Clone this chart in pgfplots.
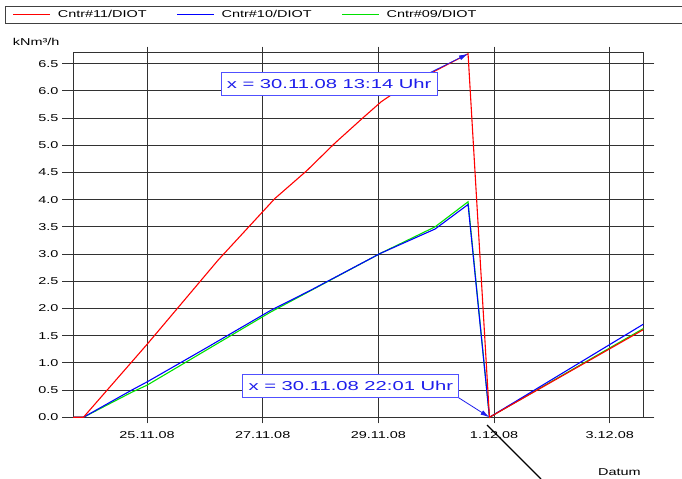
\documentclass[border=0pt]{standalone}
\usepackage{fontspec}
\setmainfont{Liberation Sans}[FakeStretch=1.45]
\newfontfamily\annfont{Liberation Sans}[FakeStretch=1.56]
\usepackage{pgfplots}
\pgfplotsset{compat=1.18}
\usetikzlibrary{arrows.meta}
\definecolor{annblue}{RGB}{30,30,235}
\definecolor{boxblue}{RGB}{80,80,255}
\definecolor{gridc}{RGB}{50,50,50}
\definecolor{ggreen}{RGB}{0,225,0}
\begin{document}
\begin{tikzpicture}[x=1bp,y=1bp]
\path[use as bounding box] (0,0) rectangle (682,479);
\draw[line width=1bp, black!75] (5,472) -- (695,472) -- (695,455) -- (5,455) -- cycle;
\begin{axis}[
  at={(73bp,61.7bp)}, anchor=south west,
  scale only axis, width=570.3bp, height=364.6bp,
  xmin=-0.28, xmax=9.58, ymin=0, ymax=6.7,
  xtick={1,3,5,7,9},
  xticklabels={25.11.08,27.11.08,29.11.08,1.12.08,3.12.08},
  ytick={0,0.5,1,1.5,2,2.5,3,3.5,4,4.5,5,5.5,6,6.5},
  yticklabel style={/pgf/number format/.cd, fixed, fixed zerofill, precision=1},
  /pgf/number format/assume math mode=true,
  grid=major, major grid style={gridc, line width=0.9bp},
  axis line style={gridc, line width=1bp},
  tick align=outside, major tick length=11bp,
  tick style={gridc, line width=0.9bp},
  xtick style={/pgfplots/major tick length=6bp},
  ticklabel style={font=\fontsize{10}{12}\selectfont},
  xlabel={Datum}, xlabel style={at={(rel axis cs:0.958,-0.150)}, anchor=center, font=\fontsize{10}{12}\selectfont},
  ylabel={kNm³/h}, ylabel style={rotate=-90, at={(rel axis cs:-0.1058,1.0302)}, anchor=west, inner sep=0pt, font=\fontsize{10}{12}\selectfont},
  legend columns=3, reverse legend,
  legend style={at={(rel axis cs:-0.1058,1.1042)}, anchor=west, draw=none, fill=none, inner sep=0pt,
    font=\fontsize{10}{12}\selectfont, cells={anchor=west},
    /tikz/every odd column/.append style={column sep=5bp},
    /tikz/every even column/.append style={column sep=28bp}},
  legend image code/.code={\draw[#1, line width=1bp] (0bp,0bp) -- (37bp,0bp);},
  clip=false,
]
\addplot[ggreen, line width=1.1bp] coordinates {(-0.28,0) (-0.10,0) (0.735,0.46) (1.0,0.59) (3.13,1.93) (5.03,3.01) (5.98,3.50) (6.55,3.96) (6.92,0) (9.58,1.63)};
\addlegendentry{Cntr\#09/DIOT}
\addplot[blue, line width=1.1bp] coordinates {(-0.28,0) (-0.10,0) (0.417,0.31) (0.735,0.50) (1.0,0.65) (2.0,1.26) (3.13,1.96) (3.82,2.33) (5.03,3.01) (5.98,3.46) (6.55,3.91) (6.92,0) (9.58,1.71)};
\addlegendentry{Cntr\#10/DIOT}
\addplot[red, line width=1.1bp] coordinates {(-0.28,0) (-0.10,0) (1.0,1.34) (2.23,2.89) (3.21,4.02) (3.76,4.53) (4.25,5.04) (4.74,5.51) (5.05,5.80) (5.30,5.98) (5.90,6.32) (6.55,6.68) (6.92,0) (9.58,1.61)};
\addlegendentry{Cntr\#11/DIOT}
\draw[annblue, line width=0.8bp, -{Latex[length=9bp,width=5bp]}] (axis cs:5.896,6.335) -- (axis cs:6.55,6.68);
\draw[annblue, line width=0.8bp, -{Latex[length=9bp,width=5bp]}] (axis cs:6.386,0.36) -- (axis cs:6.92,0);
\node[draw=boxblue, fill=white, line width=0.8bp, text=annblue, font=\annfont\fontsize{13}{15}\selectfont, minimum width=216bp, minimum height=23bp, inner sep=0pt] at (axis cs:4.149,6.126) {x = 30.11.08 13:14 Uhr};
\node[draw=boxblue, fill=white, line width=0.8bp, text=annblue, font=\annfont\fontsize{13}{15}\selectfont, minimum width=216bp, minimum height=23bp, inner sep=0pt] at (axis cs:4.524,0.578) {x = 30.11.08 22:01 Uhr};
\end{axis}
\draw[black, line width=1.2bp] (487,54) -- (541,0);
\end{tikzpicture}
\end{document}
